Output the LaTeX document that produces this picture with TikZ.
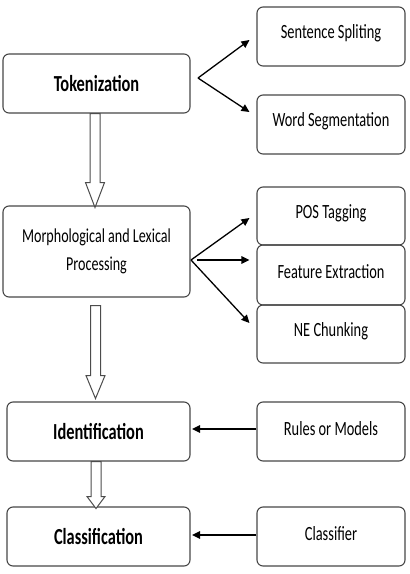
\documentclass[tikz,border=0pt]{standalone}
\usepackage{fontspec}
\setmainfont{Carlito}
\usetikzlibrary{arrows.meta,calc}
\newcommand{\vstretch}[1]{\scalebox{1}[1.4]{#1}}
\begin{document}
\begin{tikzpicture}[x=1pt,y=-1pt,
  box/.style={draw=black!72, line width=1.1pt, rounded corners=6pt, inner sep=0pt},
  lbox/.style={box, font=\fontsize{16.4}{20}\selectfont\bfseries},
  rbox/.style={box, minimum width=148pt, minimum height=59pt},
  rtext/.style={font=\fontsize{14.4}{18}\selectfont, inner sep=0pt, yshift=3pt},
  arr/.style={line width=1.3pt, -{Triangle[length=8pt,width=7.5pt]}},
  hollow/.style={draw=black!70, fill=white, line width=1pt, line join=miter}
]
\useasboundingbox (0,0) rectangle (410,574);

% left column
\node[lbox, minimum width=187pt, minimum height=59pt] (tok) at (96.5,83.5) {\vstretch{Tokenization}};
\node[box, minimum width=187pt, minimum height=91pt, align=center,
      font=\fontsize{14.1}{28}\selectfont] (morph) at (96.5,251.5)
      {\vstretch{Morphological and Lexical}\\\vstretch{Processing}};
\node[lbox, minimum width=183pt, minimum height=59pt] (ident) at (98.5,431.5) {\vstretch{Identification}};
\node[lbox, minimum width=183pt, minimum height=59pt] (class) at (98.5,536.5) {\vstretch{Classification}};

% right column
\node[rbox, label={[name=ssT, rtext]center:\vstretch{Sentence Spliting}}] (ss) at (331,36.5) {};
\node[rbox, label={[name=wsT, rtext]center:\vstretch{Word Segmentation}}] (ws) at (331,124.5) {};
\node[rbox, minimum height=58pt, label={[name=posT, rtext]center:\vstretch{POS Tagging}}] (pos) at (331,216) {};
\node[rbox, minimum height=60pt, label={[name=feT, rtext]center:\vstretch{Feature Extraction}}] (fe) at (331,275) {};
\node[rbox, minimum height=58pt, label={[name=neT, rtext]center:\vstretch{NE Chunking}}] (ne) at (331,334) {};
\node[rbox, label={[name=rmT, rtext]center:\vstretch{Rules or Models}}] (rm) at (331,431.5) {};
\node[rbox, label={[name=clT, rtext]center:\vstretch{Classifier}}] (cl) at (331,536.5) {};

% fork points
\coordinate (tokfork) at (198,78);
\coordinate (morphfork) at (191,260);
\coordinate (morphmid) at (197,260);

\draw[arr] (tokfork) -- ([xshift=-7pt,yshift=-3.5pt]ss.west);
\draw[arr] (tokfork) -- ([xshift=-7pt,yshift=12.5pt]ws.west);
\draw[arr] (morphfork) -- ([xshift=-7pt,yshift=-2pt]pos.west);
\draw[arr] (morphmid) -- ([xshift=-7pt,yshift=15pt]fe.west);
\draw[arr] (morphfork) -- ([xshift=-7pt,yshift=11pt]ne.west);
\draw[arr] ([yshift=2.5pt]rm.west) -- ([xshift=1.5pt,yshift=2.5pt]ident.east);
\draw[arr] ([yshift=1.5pt]cl.west) -- ([xshift=1.5pt,yshift=1.5pt]class.east);

% hollow arrows
\draw[hollow] ([xshift=-6.5pt]tok.south) -- ++(0,69) -- ++(-4.5,0) -- ++(9.5,25)
  -- ++(9.5,-25) -- ++(-4.5,0) -- ++(0,-69) -- cycle;
\draw[hollow] ([xshift=-6pt,yshift=-8pt]morph.south) -- ++(0,70) -- ++(-4.5,0) -- ++(9.5,23)
  -- ++(9.5,-23) -- ++(-4.5,0) -- ++(0,-70) -- cycle;
\draw[hollow] ([xshift=-7.5pt]ident.south) -- ++(0,35) -- ++(-4,0) -- ++(9,12)
  -- ++(9,-12) -- ++(-4,0) -- ++(0,-35) -- cycle;
\end{tikzpicture}
\end{document}
